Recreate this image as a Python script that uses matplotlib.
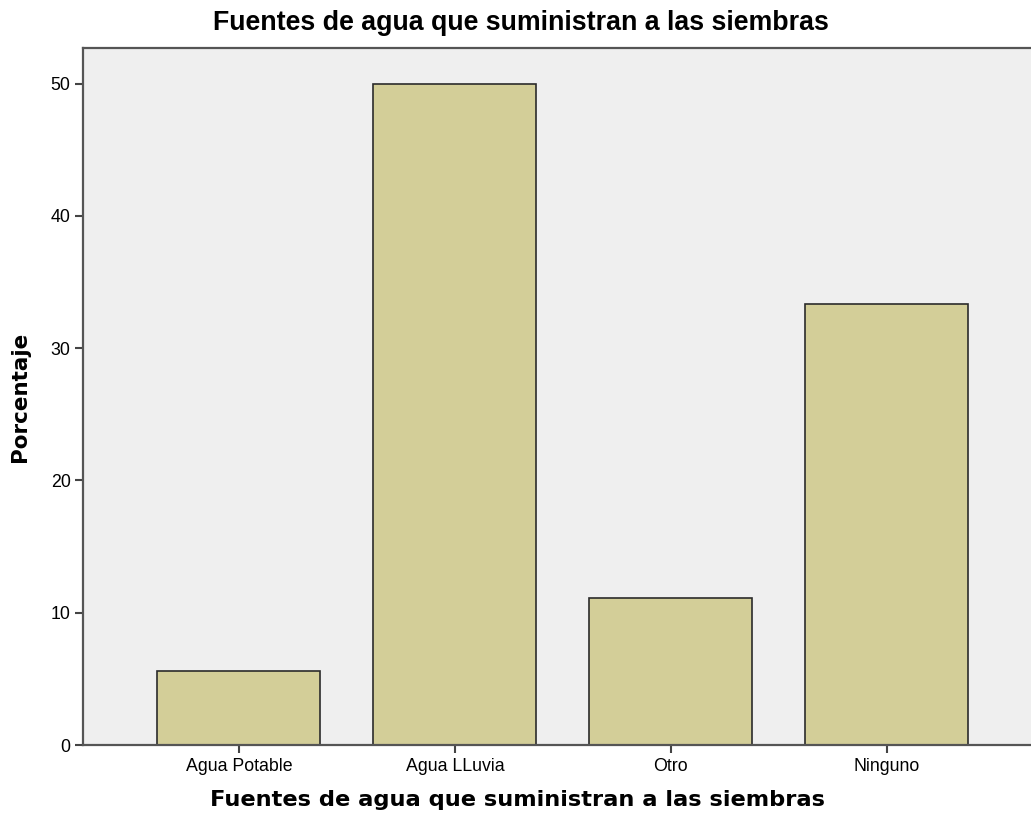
import matplotlib
matplotlib.use('Agg')
import matplotlib.pyplot as plt

categories = ['Agua Potable', 'Agua LLuvia', 'Otro', 'Ninguno']
percent = [5.56, 50.0, 11.11, 33.33]
yticks = [0, 10, 20, 30, 40, 50]

C_BG = '#EFEFEF'; C_BAR = '#D3CE98'; C_EDGE = '#2B2B2B'

plt.rcParams['font.family'] = ['Liberation Sans', 'DejaVu Sans']

fig = plt.figure(figsize=(10.31, 8.21), dpi=100)
ax = fig.add_axes([83/1031, 76/821, 1 - 83/1031, (745-48)/821])
ax.set_facecolor(C_BG)

x = list(range(len(categories)))
ax.bar(x, percent, width=0.755, color=C_BAR, edgecolor=C_EDGE, linewidth=1.2, zorder=2)

ax.set_xlim(-0.722, 3.667)
ax.set_ylim(0, 52.7)
ax.set_xticks(x)
ax.set_xticklabels(categories, fontsize=12.8)
ax.set_yticks(yticks)
ax.set_yticklabels([str(v) for v in yticks], fontsize=12.8)
ax.tick_params(axis='both', length=6, width=1.5, color='#444444', pad=3)

for s in ['left', 'top', 'bottom']:
    ax.spines[s].set_color('#555555')
    ax.spines[s].set_linewidth(1.6)
ax.spines['right'].set_visible(False)

fig.text(20/1031, 0.5 + (76 - 48) / 821 / 2, 'Porcentaje', rotation=90,
         ha='center', va='center', fontsize=15.5, fontweight='bold', family='DejaVu Sans')
fig.text(518/1031, 1 - 800/821, 'Fuentes de agua que suministran a las siembras',
         ha='center', va='center', fontsize=16.2, fontweight='bold', family='DejaVu Sans')
fig.text(521/1031, 1 - 23/821, 'Fuentes de agua que suministran a las siembras',
         ha='center', va='center', fontsize=19.3, fontweight='bold')

plt.savefig('out.png', dpi=100, facecolor='white')
